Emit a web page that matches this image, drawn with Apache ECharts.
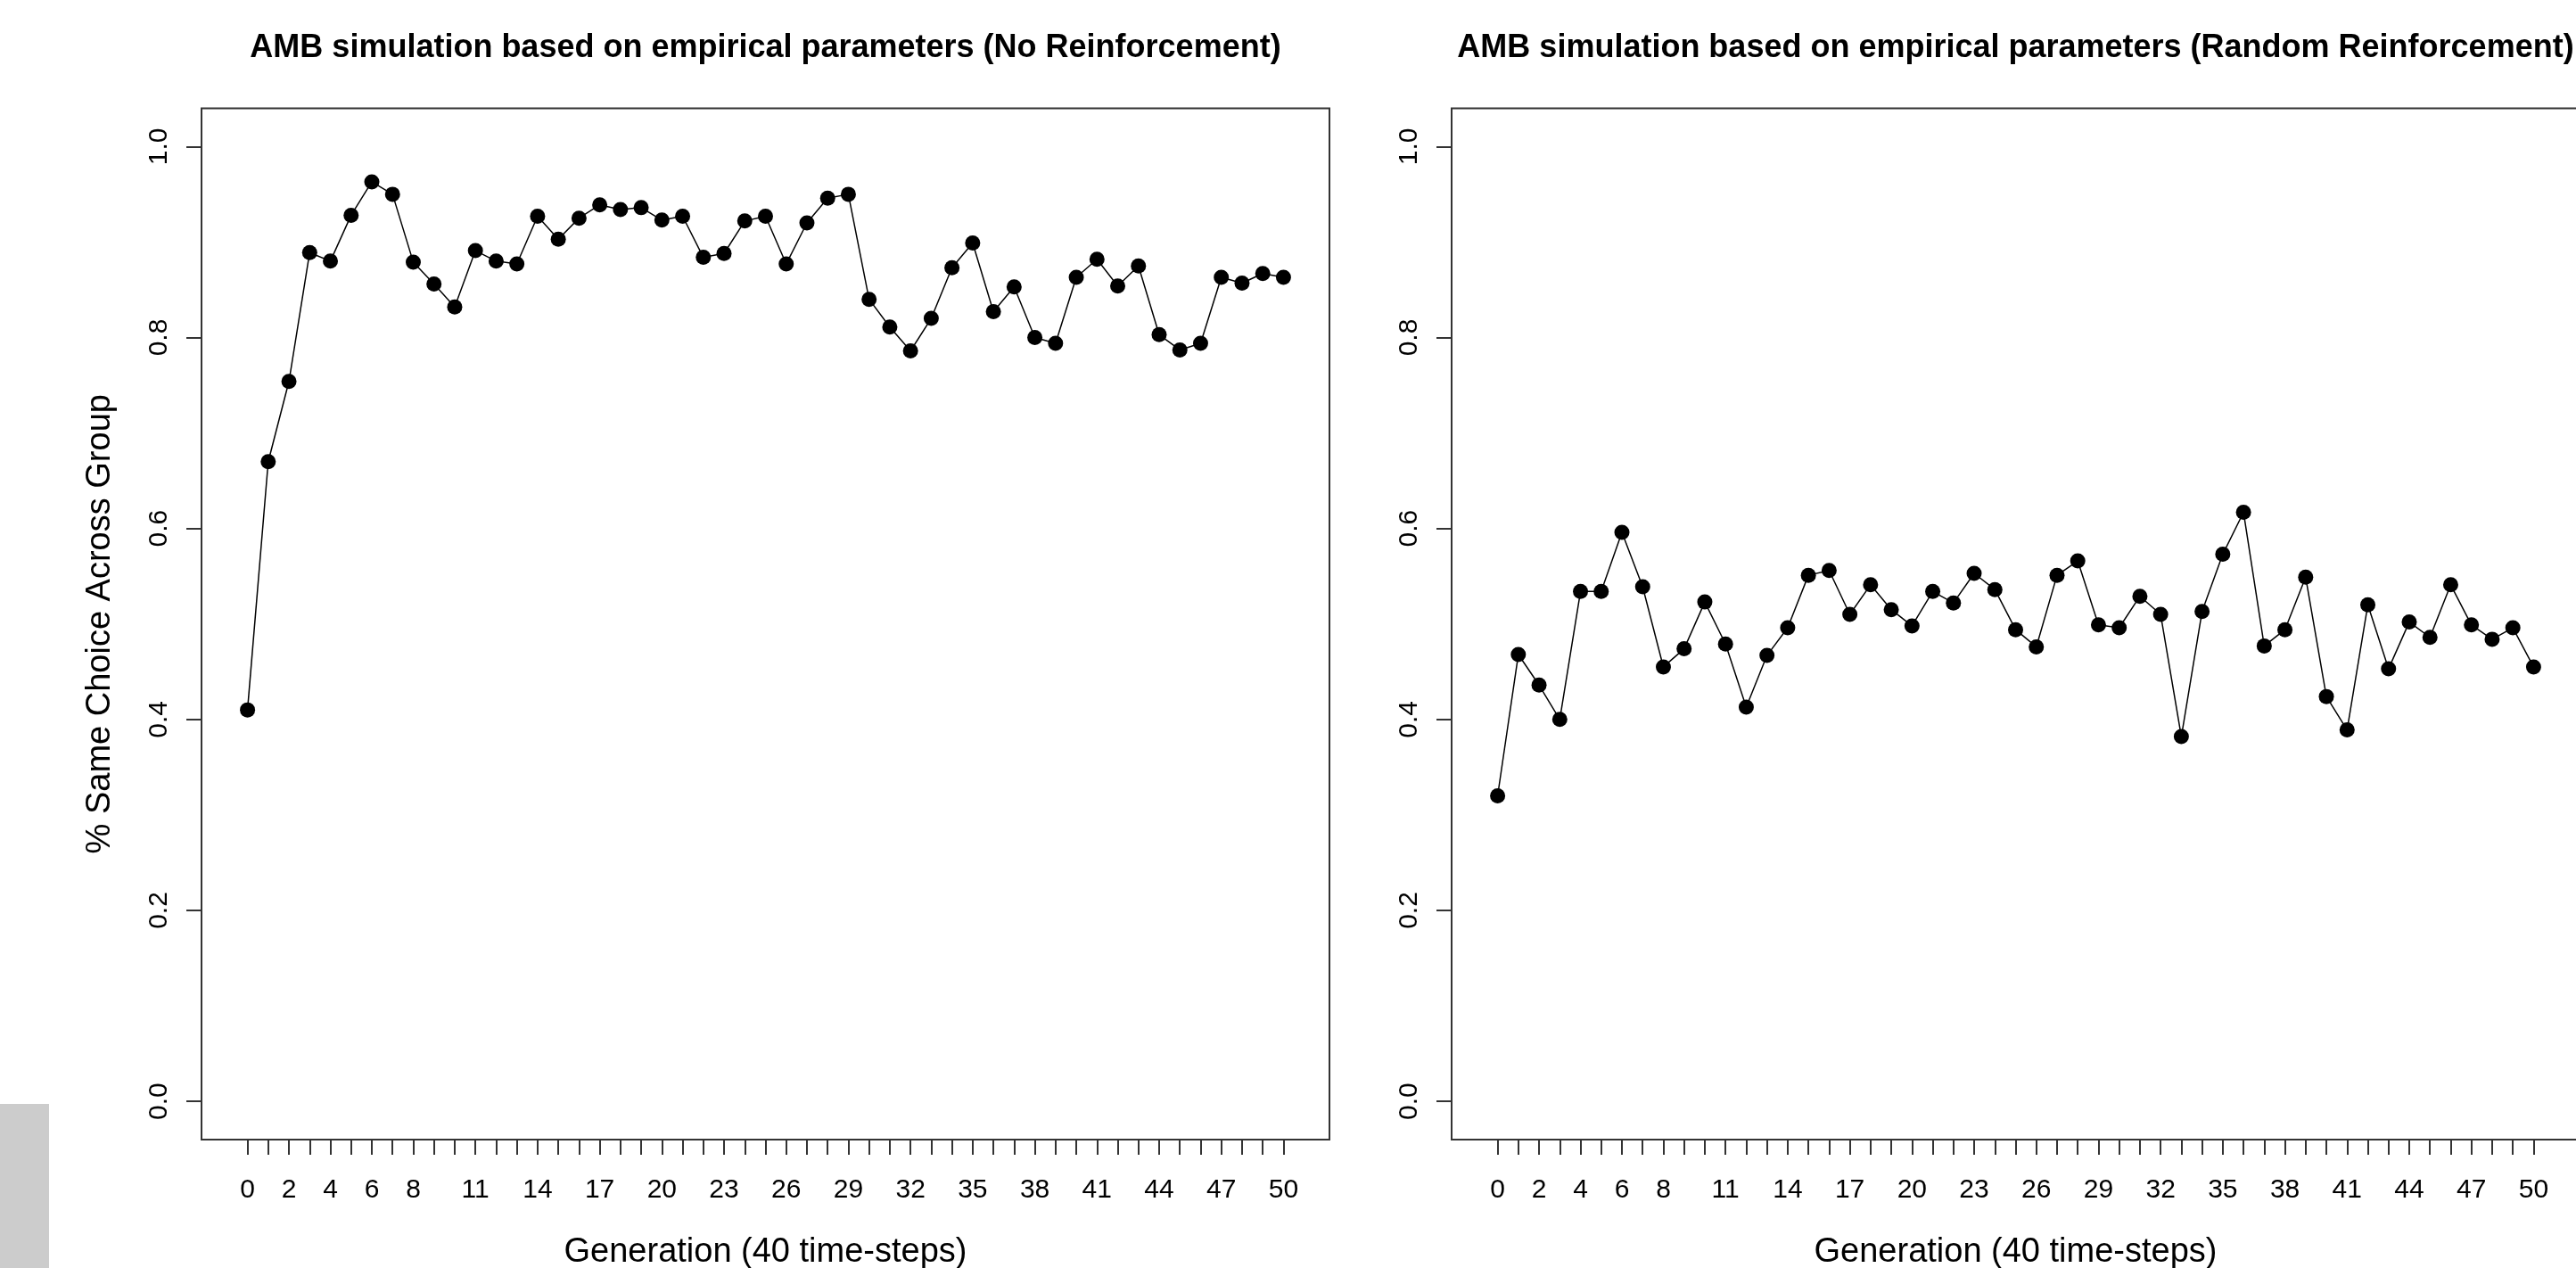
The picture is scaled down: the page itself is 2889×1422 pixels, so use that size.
<!DOCTYPE html>
<html lang="en">
<head>
  <meta charset="UTF-8">
  <title>AMB simulation based on empirical parameters</title>
  <script src="https://cdn.jsdelivr.net/npm/echarts@6/dist/echarts.min.js"></script>
  <style>html,body{margin:0;background:#fff}#main{width:2889px;height:1422px}</style>
</head>
<body>
  <div id="main"></div>
  <script>
  // generation index shared by both panels
  const generations = [0,1,2,3,4,5,6,7,8,9,10,11,12,13,14,15,16,17,18,19,20,21,22,23,24,25,
    26,27,28,29,30,31,32,33,34,35,36,37,38,39,40,41,42,43,44,45,46,47,48,49,50];
  const xTickLabels = [0,2,4,6,8,11,14,17,20,23,26,29,32,35,38,41,44,47,50];
  const yTicks = [0,0.2,0.4,0.6,0.8,1.0];

  // share of same choice across group
  const noReinforcement = [0.410,0.670,0.754,0.889,0.880,0.928,0.963,0.950,0.879,0.856,
    0.832,0.891,0.880,0.877,0.927,0.903,0.925,0.939,0.934,0.936,0.923,0.927,0.884,0.888,
    0.922,0.927,0.877,0.920,0.946,0.950,0.840,0.811,0.786,0.820,0.873,0.899,0.827,0.853,
    0.800,0.794,0.863,0.882,0.854,0.875,0.803,0.787,0.794,0.863,0.857,0.867,0.863];
  const randomReinforcement = [0.320,0.468,0.436,0.400,0.534,0.534,0.596,0.539,0.455,0.474,
    0.523,0.479,0.413,0.467,0.496,0.551,0.556,0.510,0.541,0.515,0.498,0.534,0.522,0.553,
    0.536,0.494,0.476,0.551,0.566,0.499,0.496,0.529,0.510,0.382,0.513,0.573,0.617,0.477,
    0.494,0.549,0.424,0.389,0.520,0.453,0.502,0.486,0.541,0.499,0.484,0.496,0.455];

  const titles = [
    'AMB simulation based on empirical parameters (No Reinforcement)',
    'AMB simulation based on empirical parameters (Random Reinforcement)'
  ];
  const xName = 'Generation (40 time-steps)';
  const yName = '% Same Choice Across Group';

  const FONT = '"Liberation Sans", Arial, sans-serif';
  const INK = '#333';
  const boxLeft = [226, 1628];
  const boxWidth = 1265;
  const boxTop = 121.5;
  const boxHeight = 1156.5;

  function xAxis(i) {
    return {
      type: 'value', gridIndex: i, min: -2.22, max: 52.22,
      name: xName, nameLocation: 'middle', nameGap: 108,
      nameTextStyle: {fontFamily: FONT, fontSize: 38, color: '#000'},
      axisLine: {show: false, onZero: false},
      splitLine: {show: false},
      axisTick: {show: true, inside: false, length: 17, customValues: generations,
        lineStyle: {color: INK, width: 2}},
      axisLabel: {customValues: xTickLabels, margin: 42, fontFamily: FONT, fontSize: 30, color: '#000'}
    };
  }
  function yAxis(i, withName) {
    return {
      type: 'value', gridIndex: i, min: -0.04, max: 1.04,
      name: withName ? yName : '', nameLocation: 'middle', nameGap: 94,
      nameTextStyle: {fontFamily: FONT, fontSize: 38, color: '#000'},
      axisLine: {show: false, onZero: false},
      splitLine: {show: false},
      axisTick: {show: true, inside: false, length: 17, customValues: yTicks,
        lineStyle: {color: INK, width: 2}},
      axisLabel: {customValues: yTicks, rotate: 90, margin: 32, fontFamily: FONT, fontSize: 30,
        color: '#000', formatter: v => v.toFixed(1)}
    };
  }
  function series(i, vals) {
    return {
      type: 'line', xAxisIndex: i, yAxisIndex: i,
      data: generations.map((g, k) => [g, vals[k]]),
      symbol: 'circle', symbolSize: 17,
      itemStyle: {color: '#000'},
      lineStyle: {color: '#000', width: 1.5},
      silent: true, animation: false
    };
  }

  const chart = echarts.init(document.getElementById('main'));
  chart.setOption({
    backgroundColor: '#fff',
    animation: false,
    title: titles.map((t, i) => ({
      text: t, left: boxLeft[i] + boxWidth / 2, top: 36, textAlign: 'center', padding: 0,
      textStyle: {fontFamily: FONT, fontSize: 36, fontWeight: 'bold', color: '#000'}
    })),
    grid: boxLeft.map(l => ({
      left: l, top: boxTop, width: boxWidth, height: boxHeight,
      outerBoundsMode: 'none', containLabel: false,
      show: true, borderColor: INK, borderWidth: 2, backgroundColor: 'transparent'
    })),
    xAxis: [xAxis(0), xAxis(1)],
    yAxis: [yAxis(0, true), yAxis(1, false)],
    series: [series(0, noReinforcement), series(1, randomReinforcement)],
    graphic: [{
      type: 'rect', left: 0, top: 1238, shape: {width: 55, height: 184},
      style: {fill: '#cccccc'}, silent: true
    }]
  });
  </script>
</body>
</html>
